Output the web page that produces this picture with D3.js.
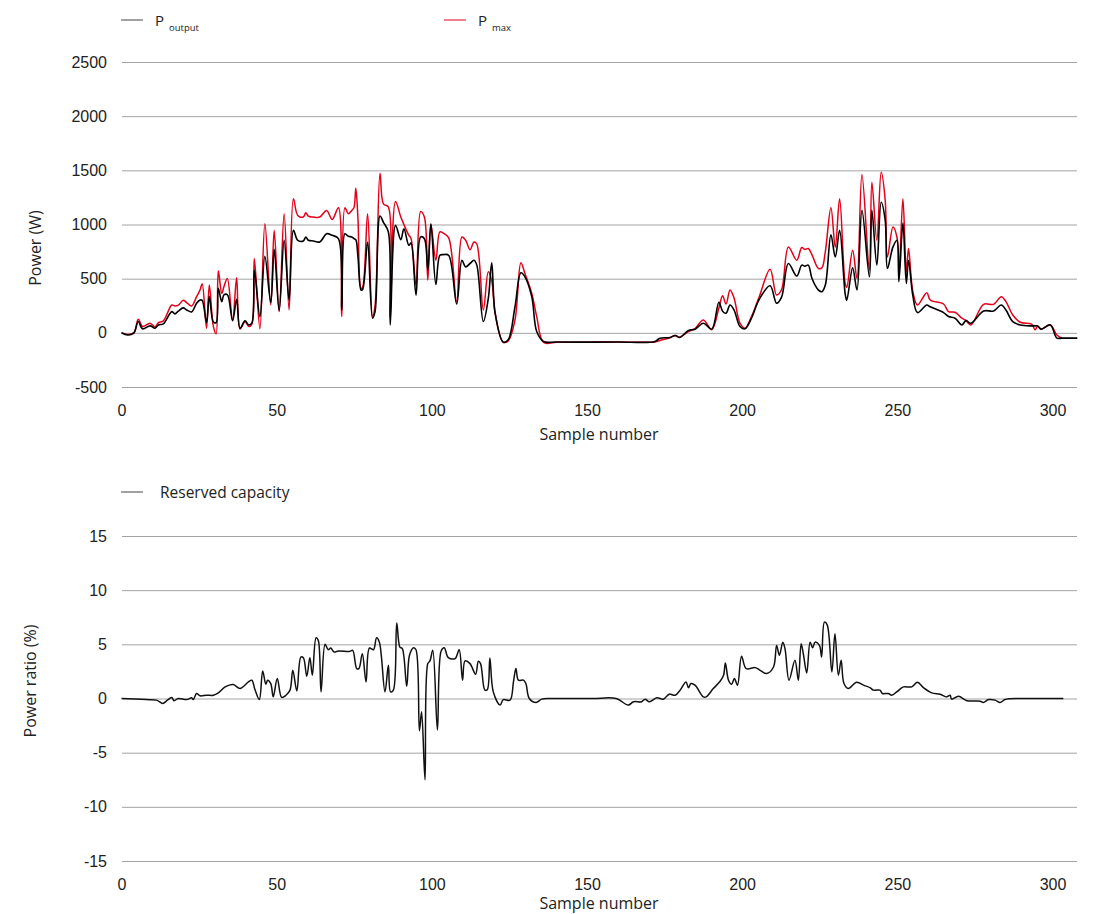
<!DOCTYPE html>
<html>
<head>
<meta charset="utf-8">
<script src="https://cdn.jsdelivr.net/npm/d3@7"></script>
<style>
  html, body { margin: 0; padding: 0; background: #fff; }
  svg { display: block; font-family: "Open Sans", "Noto Sans", sans-serif; }
  .tick text { fill: #222; }
</style>
</head>
<body>
<svg id="chart" width="1093" height="914"></svg>
<script>
// ---------- DATA ----------
const xTicks = [0, 50, 100, 150, 200, 250, 300];
const powerTicks = [-500, 0, 500, 1000, 1500, 2000, 2500];
const ratioTicks = [-15, -10, -5, 0, 5, 10, 15];

// Top chart: sample numbers with P_output and P_max (W)
const powerSamples = [0, 2, 4, 5.4, 6.8, 9.2, 10.8, 11.9, 13.5, 16.2, 17.2, 18.3, 19.9, 21, 22.6, 24.2, 25.3, 26,
  27.4, 28.3, 29.6, 30.5, 31.2, 32.3, 33, 34.1, 35.8, 37.1, 38.2, 39.8, 41, 42, 42.8, 44.6, 46.2, 48.1, 49.2,
  50.8, 52.4, 54, 55.4, 56.8, 58.6, 59.4, 60.2, 61.8, 63.9, 66.1, 67.9, 69.9, 71, 72, 73.1, 74.2, 74.9, 75.5,
  76.2, 77.2, 77.7, 79.3, 80.9, 81.7, 83.3, 84.4, 86, 86.6, 88.3, 90, 91, 92.6, 93.3, 94.9, 96.4, 97.6, 98.7,
  99.7, 101.3, 102.6, 103.7, 105.4, 108, 109.7, 110.9, 112.3, 113.6, 114.5, 116.6, 118.2, 119.3, 120.4, 123,
  124.6, 126.8, 128.7, 130, 132.2, 133.8, 136, 140, 150, 160, 171.9, 173.5, 176.7, 178.4, 179.8, 182.7, 184.8,
  187.5, 190.2, 192.5, 193.7, 194.8, 196.1, 197.4, 199.3, 200.9, 203, 205.5, 209, 211.1, 212.7, 214.9, 217.6,
  219.2, 220.2, 221.3, 222.5, 224.6, 225.7, 226.8, 228.6, 230, 231.4, 233.2, 233.7, 235.6, 237, 238.6, 241,
  241.8, 243.4, 244.8, 246.1, 246.8, 248.6, 249.9, 250.5, 251.8, 252.9, 253.6, 255, 256.5, 259.5, 260.6, 264.9,
  266.5, 268.6, 270.8, 272.1, 273.7, 277.8, 281, 283.5, 285, 287.2, 289.6, 293.3, 294.4, 295.2, 296.3, 299.3,
  301.4, 303, 308];
const pOutput = [0, -20, 0, 104, 37, 64, 43, 73, 83, 196, 175, 200, 230, 211, 193, 273, 303, 300,
  95, 334, 100, 95, 410, 288, 350, 352, 113, 309, 43, 110, 73, 89, 579, 150, 707, 279, 772,
  205, 854, 303, 946, 854, 848, 885, 855, 848, 839, 915, 900, 870, 211, 915, 891, 885, 870, 860,
  700, 395, 400, 839, 135, 195, 1078, 1020, 931, 73, 992, 860, 961, 808, 830, 349, 885, 869, 579,
  1007, 447, 716, 722, 716, 266, 670, 609, 640, 670, 625, 104, 318, 646, 181, -86,
  -64, 242, 554, 517, 334, 12, -80, -85, -86, -84, -80, -49, -43, -24, -43, 21, 34,
  89, 34, 282, 200, 181, 257, 210, 58, 37, 135, 309, 435, 273, 330, 640, 524,
  625, 615, 625, 502, 395, 380, 441, 906, 700, 946, 358, 300, 600, 395, 1130, 517,
  1130, 625, 1206, 1038, 594, 793, 854, 472, 1013, 456, 670, 343, 187, 257, 240, 187,
  150, 135, 73, 113, 89, 202, 202, 257, 210, 104, 73, 64, 64, 64, 34, 73,
  -49, -49, -49];
const pMax = [0, -15, 0, 125, 58, 89, 55, 95, 110, 257, 248, 255, 300, 279, 248, 334, 395, 453,
  43, 441, 60, -9, 573, 364, 425, 502, 113, 508, 35, 105, 58, 80, 686, 37, 1007, 257, 946,
  196, 1099, 211, 1237, 1084, 1069, 1108, 1078, 1069, 1069, 1130, 1047, 1154, 150, 1154, 1099, 1130, 1154, 1335,
  1053, 410, 420, 1099, 150, 250, 1473, 1191, 1160, 140, 1212, 1069, 1000, 900, 870, 441, 1120, 1069, 487,
  1000, 670, 931, 920, 879, 288, 885, 854, 768, 839, 820, 211, 563, 480, 181, -86,
  -75, 119, 646, 548, 364, 150, -89, -88, -86, -85, -84, -70, -45, -24, -40, 12, 40,
  119, 28, 230, 343, 266, 395, 320, 89, 43, 150, 334, 588, 349, 400, 793, 670,
  787, 770, 778, 720, 594, 600, 750, 1154, 790, 1237, 456, 420, 762, 502, 1461, 579,
  1390, 854, 1482, 1222, 700, 977, 880, 520, 1237, 560, 778, 380, 257, 370, 303, 266,
  196, 190, 135, 115, 73, 263, 263, 334, 288, 165, 98, 80, 28, 60, 34, 73,
  -20, -49, null];

// Bottom chart: reserved capacity (%)
const ratioSamples = [0, 8.1, 11.3, 13.3, 14.6, 16.2, 16.9, 18.3, 21, 22.6, 23.1, 24.2, 25.3, 27.4, 29.6, 31.2,
  33.4, 36, 38.2, 40.9, 42, 43, 44.4, 45.5, 46.5, 47.1, 48.1, 48.9, 50.2, 51.6, 53, 54.3, 55.2, 56.5, 57.8,
  58.6, 59.7, 60.7, 61.5, 62.7, 63.4, 64.3, 65.6, 66.6, 67.4, 68.5, 69.9, 73.6, 74.5, 75.8, 76.5, 77.6, 78.8,
  79.9, 81.2, 82.2, 83.1, 84.9, 86, 86.7, 87.6, 88.7, 89.7, 90.5, 91.9, 92.8, 94.1, 94.9, 96, 96.7, 97.8, 98.7,
  99.4, 100.3, 101.8, 103, 104, 105.3, 107.5, 108.8, 109.9, 110.7, 112.3, 114.1, 115, 115.7, 117.1, 117.9,
  118.7, 119.8, 122, 123, 125.2, 126.3, 127.1, 127.9, 129.5, 130.3, 131.4, 133.6, 135.4, 138.1, 145, 152, 159.4, 163.3,
  165, 167.6, 168.7, 170.1, 172.5, 174.6, 176.5, 178.4, 180, 181.9, 182.7, 183.5, 184.8, 187.5, 188.4, 190.7,
  192.9, 194, 194.6, 195.6, 196.6, 197.5, 198.5, 199.8, 201.3, 204.2, 205.8, 207.9, 210.1, 211.1, 212, 213.1,
  213.8, 215.1, 217, 218.1, 219, 219.7, 220.8, 221.9, 222.7, 223.5, 224.9, 225.6, 226.5, 227.4, 228.9, 229.9,
  231, 231.9, 232.8, 234.2, 236.9, 239.1, 241.2, 242.3, 244.4, 245.2, 247.1, 248.2, 249.8, 252, 254.6, 256.5,
  258.4, 261.1, 263.8, 265.9, 267, 267.5, 269.7, 272.4, 276.7, 277.7, 279.4, 281.5, 283.1, 284.7, 289.5, 296, 303.5];
const reservedCapacity = [0, -0.1, -0.15, -0.46, -0.2, 0.1, -0.2, 0, -0.1, 0.06, -0.1, 0.46, 0.25, 0.3, 0.3, 0.52,
  1.07, 1.29, 0.92, 1.53, 1.69, 0.83, -0.1, 2.55, 1.32, 1.69, 1.38, 0.15, 1.84, 0.1, 0.3, 0.77, 2.6, 0.7, 3.83,
  3.77, 2.05, 3.77, 2.15, 5.6, 5.37, 0.61, 5.0, 4.5, 4.66, 4.29, 4.39, 4.35, 4.45, 2.76, 2.76, 4.14, 1.53,
  4.66, 4.5, 5.6, 5.2, 0.61, 3.07, 0.61, 0.77, 6.96, 4.75, 4.6, 1.13, 3.99, 4.69, 4.5, -2.97, -1.23, -7.51, 3.22,
  3.47, 4.45, -2.91, 4.39, 4.69, 3.77, 3.68, 4.5, 1.69, 3.47, 3.22, 2.24, 3.44, 3.22, 0.77, 0.83,
  3.74, 0.61, -0.61, -0.1, -0.15, 1.53, 2.76, 1.69, 1.69, 1.38, 0, -0.37, -0.06, 0, 0, 0, 0, -0.61,
  -0.3, -0.3, -0.06, -0.3, 0.06, -0.06, 0.4, 0.3, 0.77, 1.53, 1.0, 1.38, 1.23, 0.15, 0.15, 0.92,
  1.59, 2.15, 3.28, 1.69, 1.32, 1.84, 1.23, 3.9, 2.76, 2.85, 2.6, 2.3, 2.91, 4.9, 3.99, 5.2,
  4.6, 1.69, 3.53, 1.69, 5.06, 4.14, 2.36, 5.2, 4.69, 5.2, 4.9, 3.83, 7.05, 6.8, 2.45, 5.98,
  2.15, 3.53, 1.38, 0.92, 1.5, 1.23, 1.0, 0.77, 0.77, 0.46, 0.46, 0.3, 0.61, 1.07, 1.07, 1.5,
  1.0, 0.52, 0.4, 0.15, 0.3, -0.06, 0.21, -0.2, -0.25, -0.37, -0.1, -0.15, -0.37, -0.1, 0, 0, 0];

// ---------- DRAW ----------
const svg = d3.select("#chart");
const plotLeft = 122, plotRight = 1077;
const gridColor = "#a3a3a3";
const red = "#e2001a";

const x = d3.scaleLinear().domain([0, 300]).range([121.5, 1052.5]);
const yTop = d3.scaleLinear().domain([-500, 2500]).range([387, 62]);
const yBot = d3.scaleLinear().domain([-15, 15]).range([861, 536]);

function drawAxes(yScale, ticks, bottomY, titleY, yTitle, yTitleX, yTitleY) {
  const gy = svg.append("g").attr("transform", `translate(${plotLeft},0)`)
    .call(d3.axisLeft(yScale).tickValues(ticks).tickSize(-(plotRight - plotLeft)).tickPadding(15).tickFormat(d => String(d)));
  gy.select(".domain").remove();
  gy.selectAll(".tick line").attr("stroke", gridColor).attr("stroke-width", 1);
  gy.selectAll(".tick text").attr("font-size", 16);

  const gx = svg.append("g").attr("transform", `translate(0,${bottomY})`)
    .call(d3.axisBottom(x).tickValues(xTicks).tickSize(0).tickPadding(18).tickFormat(d => String(d)));
  gx.select(".domain").remove();
  gx.selectAll(".tick text").attr("font-size", 16);

  svg.append("text").attr("x", 599).attr("y", titleY).attr("text-anchor", "middle")
    .attr("font-size", 16).attr("fill", "#222").text("Sample number");

  svg.append("text").attr("transform", `translate(${yTitleX},${yTitleY}) rotate(-90)`)
    .attr("text-anchor", "middle").attr("font-size", 16).attr("fill", "#222").text(yTitle);
}

drawAxes(yTop, powerTicks, 387, 440, "Power (W)", 41, 248);
drawAxes(yBot, ratioTicks, 861, 909, "Power ratio (%)", 36, 681);

const curve = d3.curveCatmullRom.alpha(0.5);

const topLine = (vals) => d3.line()
  .defined((d, i) => vals[i] !== null)
  .x((d, i) => x(powerSamples[i]))
  .y((d, i) => yTop(vals[i]))
  .curve(curve);

svg.append("path").datum(powerSamples).attr("fill", "none").attr("stroke", red).attr("stroke-width", 1.5)
  .attr("d", topLine(pMax));
svg.append("path").datum(powerSamples).attr("fill", "none").attr("stroke", "#000").attr("stroke-width", 1.6)
  .attr("d", topLine(pOutput));

svg.append("path").datum(ratioSamples).attr("fill", "none").attr("stroke", "#111").attr("stroke-width", 1.5)
  .attr("d", d3.line().x((d, i) => x(ratioSamples[i])).y((d, i) => yBot(reservedCapacity[i])).curve(curve));

// ---------- LEGENDS ----------
function legendItem(x0, y0, color, main, sub, gap, size) {
  svg.append("line").attr("x1", x0).attr("x2", x0 + 22).attr("y1", y0).attr("y2", y0)
    .attr("stroke", color).attr("stroke-width", 1);
  const t = svg.append("text").attr("x", x0 + gap).attr("y", y0 + 6).attr("fill", "#222").attr("font-size", size);
  t.append("tspan").text(main);
  if (sub) t.append("tspan").attr("font-size", 9.5).attr("dx", 5).attr("dy", 5).text(sub);
}
legendItem(121, 20, "#444", "P", "output", 34, 15);
legendItem(444, 20, red, "P", "max", 34, 15);
legendItem(121, 492, "#444", "Reserved capacity", null, 39, 15.5);
</script>
</body>
</html>
